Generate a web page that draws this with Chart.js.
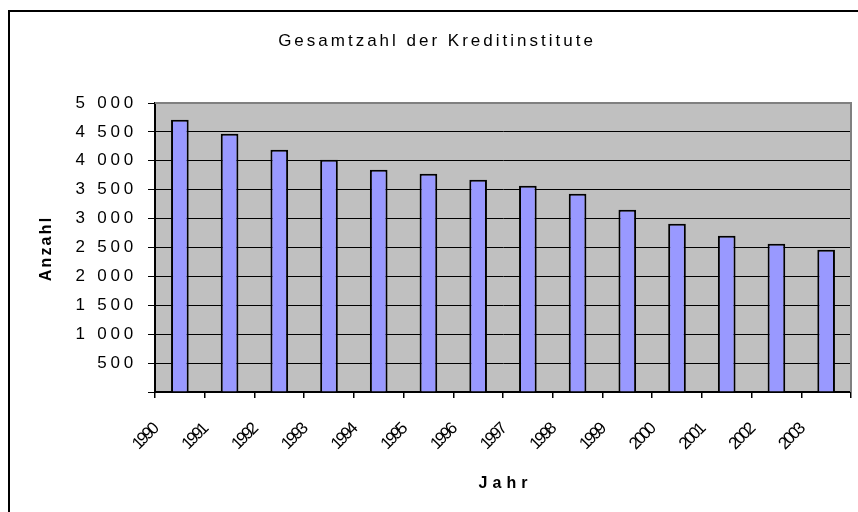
<!DOCTYPE html>
<html>
<head>
<meta charset="utf-8">
<script src="https://cdn.jsdelivr.net/npm/chart.js@4/dist/chart.umd.min.js"></script>
<style>
  html, body { margin:0; padding:0; background:#fff; }
  #wrap { width:858px; height:512px; position:relative; }
</style>
</head>
<body>
<div id="wrap"><canvas id="c" width="858" height="512"></canvas></div>
<script>
// ======= data =======
const years = ['1990','1991','1992','1993','1994','1995','1996','1997','1998','1999','2000','2001','2002','2003'];
const counts = [4711, 4469, 4192, 4019, 3846, 3777, 3673, 3569, 3431, 3154, 2912, 2704, 2566, 2462];
const chartTitle = 'Gesamtzahl der Kreditinstitute';
const xTitle = 'Jahr';
const yTitle = 'Anzahl';
const yMax = 5000, yStep = 500;

const FONT = '"Liberation Sans", Arial, sans-serif';

function fmt(v){ return v === 0 ? '' : String(v).replace(/\B(?=(\d{3})+(?!\d))/g, ' '); }

// plot area background, frame, titles, letter spacing
const excelLook = {
  id: 'excelLook',
  beforeDraw(chart){
    const {ctx, chartArea:a} = chart;
    ctx.save();
    ctx.fillStyle = '#c0c0c0';
    ctx.fillRect(a.left, a.top, a.right - a.left, a.bottom - a.top);
    ctx.restore();
    ctx.letterSpacing = '3.8px';   // y tick labels
  },
  beforeDatasetsDraw(chart){
    chart.ctx.letterSpacing = '0px';
  },
  afterDatasetsDraw(chart){
    const {ctx, chartArea:a} = chart;
    ctx.save();
    ctx.strokeStyle = '#808080';
    ctx.lineWidth = 2;
    ctx.beginPath();
    ctx.moveTo(a.left, a.top); ctx.lineTo(a.right, a.top); ctx.lineTo(a.right, a.bottom);
    ctx.stroke();
    ctx.restore();
    ctx.letterSpacing = '-2.5px';  // x tick labels drawn next (z:1)
  },
  afterDraw(chart){
    const {ctx, chartArea:a} = chart;
    ctx.save();
    ctx.fillStyle = '#000';
    ctx.textAlign = 'center';
    ctx.textBaseline = 'middle';
    ctx.letterSpacing = '3px';
    ctx.font = '17px ' + FONT;
    ctx.fillText(chartTitle, 437, 41);
    ctx.letterSpacing = '5px';
    ctx.font = 'bold 16px ' + FONT;
    ctx.fillText(xTitle, (a.left + a.right) / 2 + 2.5, 484);
    ctx.letterSpacing = '2.2px';
    ctx.save();
    ctx.translate(47, (a.top + a.bottom) / 2 + 2);
    ctx.rotate(-Math.PI / 2);
    ctx.fillText(yTitle, 1, 0);
    ctx.restore();
    ctx.letterSpacing = '0px';
    // outer frame (right/bottom edges lie outside the picture)
    ctx.fillRect(8, 10, 2, 502);
    ctx.fillRect(8, 10, 850, 2);
    ctx.restore();
  }
};

const catW = (851 - 155) / years.length;

new Chart(document.getElementById('c'), {
  type: 'bar',
  data: {
    labels: years,
    datasets: [{
      data: counts,
      backgroundColor: '#9999ff',
      borderColor: '#000',
      borderWidth: 2,
      borderSkipped: 'bottom',
      barPercentage: 0.355,
      categoryPercentage: 1
    }]
  },
  options: {
    responsive: false,
    animation: false,
    events: [],
    layout: { padding: { left: 10, right: 7, top: 103, bottom: 0 } },
    plugins: { legend: { display: false }, tooltip: { enabled: false }, title: { display: false } },
    scales: {
      x: {
        offset: true,
        grid: { offset: true, drawOnChartArea: false, drawTicks: true, tickLength: 6, color: '#000', lineWidth: 1.5 },
        border: { color: '#000', width: 2 },
        ticks: {
          z: 1,
          color: '#000',
          font: { family: FONT, size: 17 },
          minRotation: 45, maxRotation: 45,
          labelOffset: -catW / 2,
          padding: 22,
          autoSkip: false
        },
        afterFit(s){ s.height = 120; s.paddingLeft = 0; s.paddingRight = 0; }
      },
      y: {
        min: 0, max: yMax,
        grid: {
          color: c => (c.tick && c.tick.value === yMax) ? '#808080' : '#000',
          tickColor: '#000',
          lineWidth: 1,
          tickLength: 7
        },
        border: { color: '#000', width: 2 },
        ticks: {
          stepSize: yStep,
          color: '#000',
          font: { family: FONT, size: 17 },
          padding: 11,
          callback: v => fmt(v)
        },
        afterFit(s){ s.width = 145; s.paddingTop = 0; s.paddingBottom = 0; }
      }
    }
  },
  plugins: [excelLook]
});
</script>
</body>
</html>
